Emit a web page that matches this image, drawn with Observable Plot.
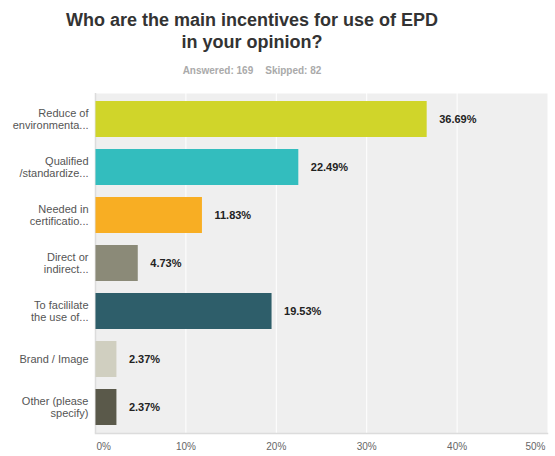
<!DOCTYPE html>
<html>
<head>
<meta charset="utf-8">
<script src="https://cdn.jsdelivr.net/npm/d3@7"></script>
<script src="https://cdn.jsdelivr.net/npm/@observablehq/plot@0.6"></script>
<style>
  html, body { margin: 0; padding: 0; background: #fff; }
  body { width: 555px; height: 456px; overflow: hidden; font-family: "Liberation Sans", Arial, sans-serif; position: relative; }
  #title { width: 504px; text-align: center; font-weight: bold; font-size: 18px; line-height: 22px; color: #333; padding-top: 9px; }
  #sub { width: 504px; text-align: center; font-weight: bold; font-size: 10px; color: #aaa; margin-top: 12px; }
  #sub span { margin: 0 6px; }
  #chart { position: absolute; top: 84px; left: 0; }
</style>
</head>
<body>
<div id="title">Who are the main incentives for use of EPD<br>in your opinion?</div>
<div id="sub"><span>Answered: 169</span><span>Skipped: 82</span></div>
<div id="chart"></div>
<script>
const categories = [
  "Reduce of\nenvironmenta...",
  "Qualified\n/standardize...",
  "Needed in\ncertificatio...",
  "Direct or\nindirect...",
  "To facililate\nthe use of...",
  "Brand / Image",
  "Other (please\nspecify)"
];
const values = [36.69, 22.49, 11.83, 4.73, 19.53, 2.37, 2.37];
const colors = ["#d0d52a", "#33bdbe", "#f8ae23", "#8b8a78", "#2e5e6a", "#d0cfc0", "#5a594a"];
const xTicks = [0, 10, 20, 30, 40, 50];

const data = categories.map((c, i) => ({category: c, value: values[i], color: colors[i]}));

const tickStyle = {frameAnchor: "bottom", dy: 16, text: d => d + "%", fontSize: 10, fill: "#666"};

const chart = Plot.plot({
  width: 555,
  height: 372,
  marginLeft: 95,
  marginRight: 8,
  marginTop: 9,
  marginBottom: 23,
  style: {fontFamily: "'Liberation Sans', Arial, sans-serif", background: "transparent", overflow: "visible"},
  x: {domain: [0, 50], axis: null},
  y: {domain: categories, paddingInner: 0.26, paddingOuter: 0.13, axis: null},
  marks: [
    Plot.frame({fill: "#efefef", stroke: null}),
    Plot.gridX(xTicks.slice(1, -1), {stroke: "#ffffff", strokeOpacity: 1, strokeWidth: 1}),
    Plot.ruleX([0], {stroke: "#dcdcdc", strokeWidth: 1.5}),
    Plot.frame({anchor: "bottom", stroke: "#dcdcdc", strokeWidth: 1.5}),
    Plot.barX(data, {x: "value", y: "category", fill: "color", insetLeft: 0.5}),
    Plot.text(data, {
      x: "value", y: "category",
      text: d => d.value.toFixed(2) + "%",
      textAnchor: "start", dx: 12,
      fontWeight: "bold", fontSize: 11, fill: "#222"
    }),
    Plot.text(data, {
      x: 0, y: "category",
      text: "category",
      textAnchor: "end", dx: -7,
      fontSize: 11, fill: "#555", lineHeight: 1.1
    }),
    Plot.text(xTicks.slice(0, 1), {x: d => d, ...tickStyle, textAnchor: "start", dx: 1}),
    Plot.text(xTicks.slice(1, -1), {x: d => d, ...tickStyle}),
    Plot.text(xTicks.slice(-1), {x: d => d, ...tickStyle, textAnchor: "end", dx: -2})
  ]
});
document.getElementById("chart").append(chart);
</script>
</body>
</html>
